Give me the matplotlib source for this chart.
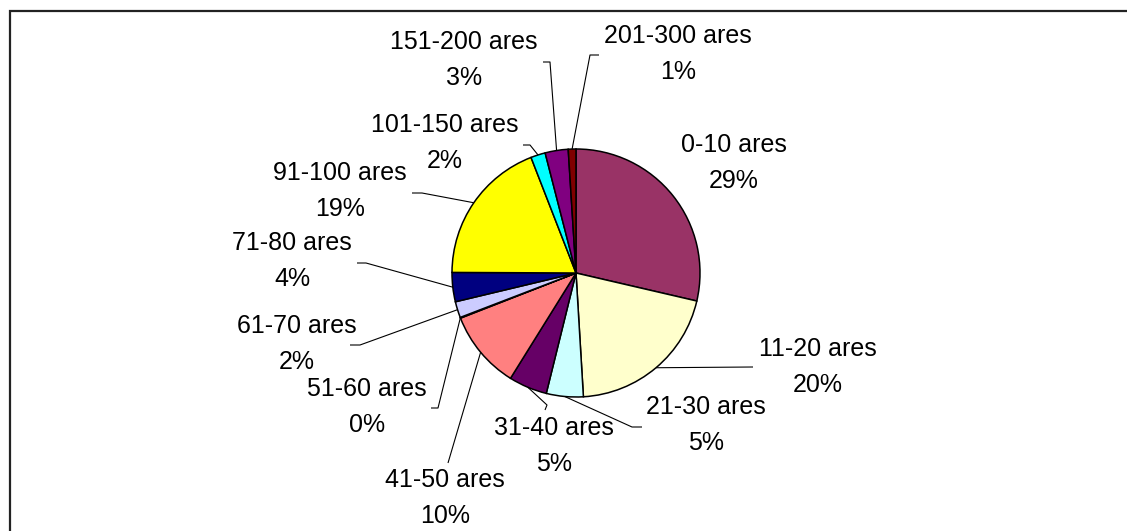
import matplotlib
matplotlib.use("Agg")
import matplotlib.pyplot as plt
import numpy as np

# ---- data ----
categories = ["0-10 ares", "11-20 ares", "21-30 ares", "31-40 ares", "41-50 ares",
              "51-60 ares", "61-70 ares", "71-80 ares", "91-100 ares",
              "101-150 ares", "151-200 ares", "201-300 ares"]
values = [28.6, 20.4, 4.8, 5.0, 10.2, 0.1, 2.1, 3.8, 19.0, 1.9, 3.0, 1.0]
colors = ["#993366", "#FFFFCC", "#CCFFFF", "#660066", "#FF8080", "#0066CC",
          "#CCCCFF", "#000080", "#FFFF00", "#00FFFF", "#800080", "#800000"]

# ---- layout (pixel coordinates, y measured from top) ----
W, H = 1127, 531
center_px = (576, 273)
radius_px = 124
label_pos = [(734, 163), (818, 367), (706, 425), (554, 446), (445, 498),
             (367, 407), (297, 344), (292, 261), (340, 191), (445, 143),
             (464, 60), (678, 54)]
# leader line waypoints after rim point (None = no leader)
leaders = [None,
           [(753, 367)],
           [(632, 427), (642, 427)],
           [(547, 405), (545, 410)],
           [(448, 463)],
           [(438, 408), (431, 408)],
           [(360, 345), (350, 345)],
           [(366, 263), (357, 263)],
           [(422, 193), (412, 193)],
           [(530, 145), (523, 145)],
           [(550, 62), (543, 62)],
           [(590, 55), (599, 55)]]

def P(x, y):
    return (x, H - y)

fig = plt.figure(figsize=(W / 100, H / 100), dpi=100)
ax = fig.add_axes([0, 0, 1, 1])
plt.rcParams['font.family'] = ['Liberation Sans', 'DejaVu Sans']

total = sum(values)
wedges, _ = ax.pie(values, colors=colors, startangle=90, counterclock=False,
                   center=P(*center_px), radius=radius_px, frame=True,
                   wedgeprops=dict(edgecolor="black", linewidth=1.1))

ax.set_xlim(0, W)
ax.set_ylim(0, H)
ax.set_aspect('equal')
ax.axis('off')

# labels
for cat, v, (lx, ly) in zip(categories, values, label_pos):
    pct = int(round(v / total * 100))
    ax.text(*P(lx, ly), f"{cat}\n{pct}%", ha='center', va='center',
            multialignment='center', fontsize=18, linespacing=1.65,
            family=['Liberation Sans', 'DejaVu Sans'], color='black')

# leader lines
for w, pts in zip(wedges, leaders):
    if pts is None:
        continue
    mid = np.deg2rad((w.theta1 + w.theta2) / 2)
    cx, cy = w.center
    sx, sy = cx + w.r * np.cos(mid), cy + w.r * np.sin(mid)
    xs = [sx] + [p[0] for p in pts]
    ys = [sy] + [H - p[1] for p in pts]
    ax.plot(xs, ys, color='black', lw=0.8, solid_capstyle='butt')

# chart frame (partially visible)
ax.plot([10, 10, W + 5], [-5, H - 11, H - 11], color='#222222', lw=1.6,
        solid_joinstyle='miter', clip_on=False)

fig.savefig("out.png", dpi=100)
